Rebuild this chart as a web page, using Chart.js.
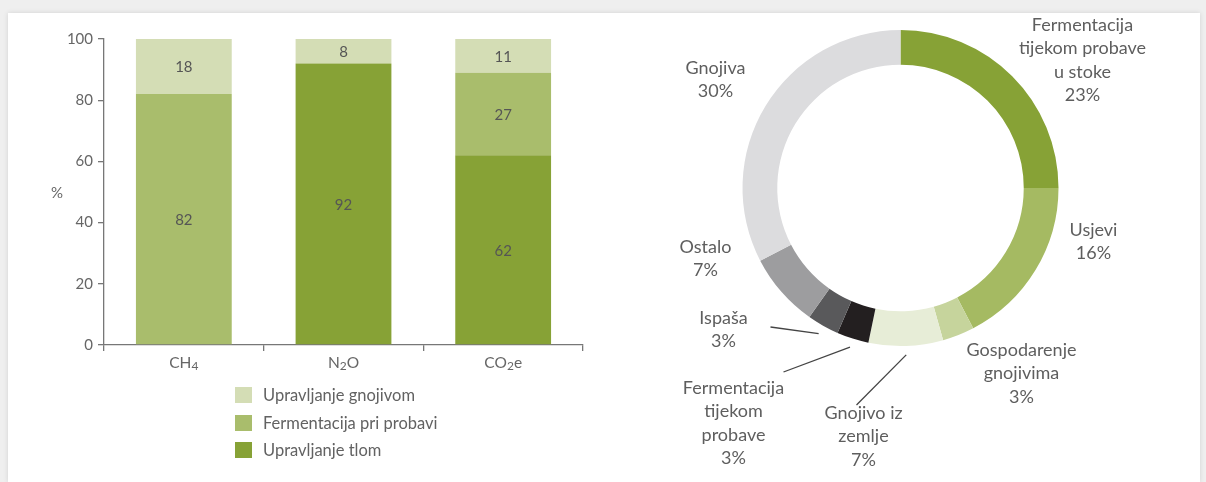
<!DOCTYPE html>
<html>
<head>
<meta charset="utf-8">
<script src="https://cdn.jsdelivr.net/npm/chart.js@4.4.1/dist/chart.umd.min.js"></script>
<style>
  body { margin: 0; width: 1206px; height: 482px; background: #efefef; overflow: hidden; position: relative; font-family: Lato, sans-serif; }
  #card { position: absolute; left: 8px; top: 13px; width: 1192px; height: 469px; background: #fff; box-shadow: 0 0 5px rgba(0,0,0,0.12); }
  #barChart { position: absolute; left: 0; top: 0; }
  #pieChart { position: absolute; left: 620px; top: 0; }
  #legend { position: absolute; left: 235px; top: 387px; font-size: 16.5px; color: #626262; }
  #legend div { height: 27.5px; display: flex; align-items: flex-start; }
  #legend span.box { display: inline-block; width: 17px; height: 16px; margin-right: 11px; }
  #legend span.txt { line-height: 16px; }
</style>
</head>
<body>
<div id="card"></div>
<canvas id="barChart" width="600" height="482"></canvas>
<canvas id="pieChart" width="586" height="482"></canvas>
<div id="legend"></div>
<script>
// stacked shares per gas
var categories = ['CH₄', 'N₂O', 'CO₂e'];
var soilValues = [0, 92, 62];        // Upravljanje tlom
var digestionValues = [82, 0, 27];   // Fermentacija pri probavi
var manureValues = [18, 8, 11];      // Upravljanje gnojivom
var barSeriesNames = ['Upravljanje tlom', 'Fermentacija pri probavi', 'Upravljanje gnojivom'];
var barColors = ['#87a236', '#a9bd6c', '#d4ddb5'];

// ring: sources of emissions
var sliceNames = [
  ['Fermentacija', 'tijekom probave', 'u stoke'],
  ['Usjevi'],
  ['Gospodarenje', 'gnojivima'],
  ['Gnojivo iz', 'zemlje'],
  ['Fermentacija', 'tijekom', 'probave'],
  ['Ispaša'],
  ['Ostalo'],
  ['Gnojiva']
];
var sliceShares = [23, 16, 3, 7, 3, 3, 7, 30];
var sliceColors = ['#87a236', '#a5ba62', '#c6d49c', '#e7edd7', '#231f20', '#59595b', '#9d9d9f', '#dcdcde'];

// where each ring label sits, relative to the ring centre (first line centre)
var labelAt = [[182, -163], [193, 42], [121, 162], [-37, 225], [-167, 200], [-177, 130], [-195, 59], [-185, -120]];
// leader lines for the narrow slices: slice index -> end point near the label
var leaders = { 3: [-44, 217], 4: [-117, 184], 5: [-130, 139] };

var textColor = '#5e5e5e';

// draws "CH₄" style labels with a proper lowered subscript
function drawChemLabel(ctx, text, cx, cy) {
  var parts = [];
  for (var i = 0; i < text.length; i++) {
    var c = text.charCodeAt(i);
    var sub = c >= 0x2080 && c <= 0x2089;
    parts.push({ ch: sub ? String.fromCharCode(c - 0x2080 + 48) : text[i], sub: sub });
  }
  var big = '15.5px Lato', small = '12px Lato';
  var total = 0;
  parts.forEach(function(p) {
    ctx.font = p.sub ? small : big;
    p.w = ctx.measureText(p.ch).width;
    total += p.w;
  });
  var x = cx - total / 2;
  ctx.textAlign = 'left';
  parts.forEach(function(p) {
    ctx.font = p.sub ? small : big;
    ctx.fillText(p.ch, x, p.sub ? cy + 3 : cy);
    x += p.w;
  });
}

var barValueLabels = {
  id: 'barValueLabels',
  afterDatasetsDraw: function(chart) {
    var ctx = chart.ctx;
    var area = chart.chartArea;
    ctx.save();
    ctx.font = '15px Lato';
    ctx.fillStyle = '#555';
    ctx.textAlign = 'center';
    ctx.textBaseline = 'middle';
    chart.data.datasets.forEach(function(ds, i) {
      chart.getDatasetMeta(i).data.forEach(function(bar, j) {
        var v = ds.data[j];
        if (!v) return;
        ctx.fillText(v, bar.x, (bar.y + bar.base) / 2 + 1);
      });
    });
    // axis unit
    ctx.fillStyle = '#666';
    ctx.fillText('%', area.left - 47, (area.top + area.bottom) / 2 + 1);
    // category labels
    var xs = chart.scales.x;
    categories.forEach(function(name, i) {
      drawChemLabel(ctx, name, xs.getPixelForTick(i), area.bottom + 18);
    });
    ctx.restore();
  }
};

new Chart(document.getElementById('barChart'), {
  type: 'bar',
  data: {
    labels: categories,
    datasets: [
      { label: barSeriesNames[0], data: soilValues, backgroundColor: barColors[0] },
      { label: barSeriesNames[1], data: digestionValues, backgroundColor: barColors[1] },
      { label: barSeriesNames[2], data: manureValues, backgroundColor: barColors[2] }
    ]
  },
  options: {
    responsive: false,
    animation: false,
    events: [],
    barPercentage: 0.6,
    categoryPercentage: 1,
    layout: { padding: { top: 39, left: 0, right: 17, bottom: 0 } },
    plugins: { legend: { display: false }, tooltip: { enabled: false } },
    scales: {
      x: {
        stacked: true,
        afterFit: function(s) { s.height = 137; },
        border: { color: '#777', width: 1.3 },
        grid: { drawOnChartArea: false, tickLength: 6, color: '#777', lineWidth: 1.3 },
        ticks: { display: false }
      },
      y: {
        stacked: true,
        min: 0,
        max: 100,
        afterFit: function(s) { s.width = 104; },
        border: { color: '#777', width: 1.3 },
        grid: { drawOnChartArea: false, tickLength: 6, color: '#777', lineWidth: 1.3 },
        ticks: { stepSize: 20, color: '#666', font: { family: 'Lato', size: 15 }, padding: 5 }
      }
    }
  },
  plugins: [barValueLabels]
});

// legend, top layer first
var legend = document.getElementById('legend');
for (var i = barSeriesNames.length - 1; i >= 0; i--) {
  var row = document.createElement('div');
  row.innerHTML = '<span class="box" style="background:' + barColors[i] + '"></span><span class="txt">' + barSeriesNames[i] + '</span>';
  legend.appendChild(row);
}

var ringLabels = {
  id: 'ringLabels',
  afterDraw: function(chart) {
    var ctx = chart.ctx;
    var arcs = chart.getDatasetMeta(0).data;
    ctx.save();
    ctx.font = '18px Lato';
    ctx.fillStyle = textColor;
    ctx.textAlign = 'center';
    ctx.textBaseline = 'middle';
    arcs.forEach(function(arc, i) {
      var lines = sliceNames[i].concat([sliceShares[i] + '%']);
      var x = arc.x + labelAt[i][0];
      var y = arc.y + labelAt[i][1];
      lines.forEach(function(t, k) { ctx.fillText(t, x, y + k * 23.5); });
      if (leaders[i]) {
        var mid = (arc.startAngle + arc.endAngle) / 2;
        var r = arc.outerRadius + 9;
        ctx.beginPath();
        ctx.moveTo(arc.x + Math.cos(mid) * r, arc.y + Math.sin(mid) * r);
        ctx.lineTo(arc.x + leaders[i][0], arc.y + leaders[i][1]);
        ctx.strokeStyle = '#444';
        ctx.lineWidth = 1.3;
        ctx.stroke();
      }
    });
    ctx.restore();
  }
};

new Chart(document.getElementById('pieChart'), {
  type: 'doughnut',
  data: {
    labels: sliceNames.map(function(n) { return n.join(' '); }),
    datasets: [{ data: sliceShares, backgroundColor: sliceColors, borderWidth: 0 }]
  },
  options: {
    responsive: false,
    animation: false,
    events: [],
    cutout: '78%',
    layout: { padding: { left: 122.5, right: 147.5, top: 30, bottom: 136 } },
    plugins: { legend: { display: false }, tooltip: { enabled: false } }
  },
  plugins: [ringLabels]
});
</script>
</body>
</html>
